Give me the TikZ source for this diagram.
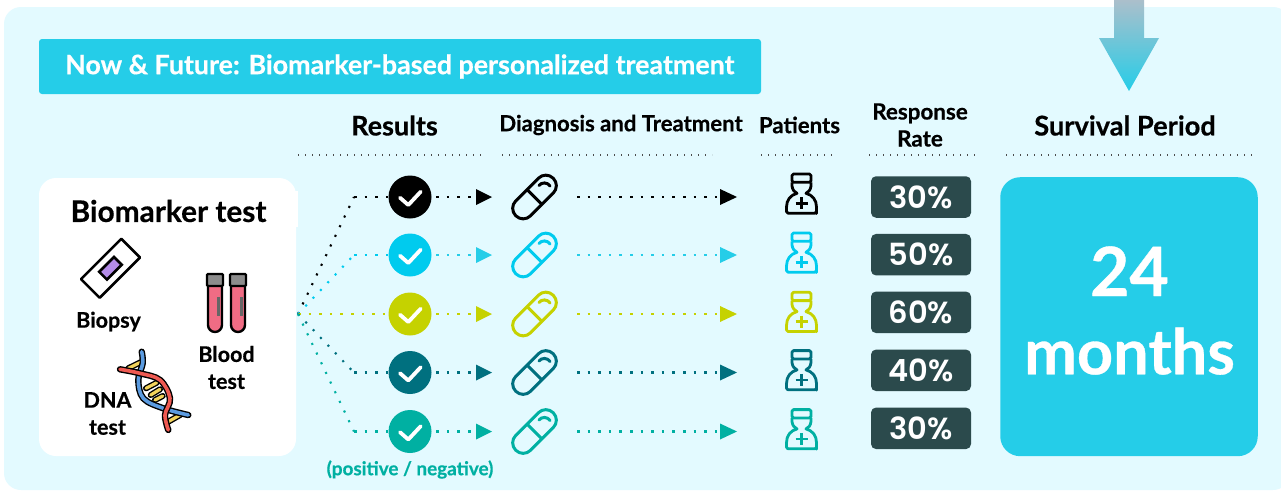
\documentclass[tikz,border=0pt]{standalone}
\usepackage{fontspec}
\setmainfont{Lato}[BoldFeatures={FakeBold=0.5}]
\newfontfamily\numfont{Poppins}[BoldFont={Poppins SemiBold}]
\usetikzlibrary{calc}
\definecolor{panel}{HTML}{E3FAFF}
\definecolor{cyanb}{HTML}{25CDE8}
\definecolor{slate}{HTML}{2B4A4C}
\definecolor{rowb}{HTML}{00CBEE}
\definecolor{rowc}{HTML}{C5D200}
\definecolor{rowd}{HTML}{00707F}
\definecolor{rowe}{HTML}{00B0A2}
\definecolor{topg}{HTML}{ABBFCB}
\definecolor{tubepink}{HTML}{F06C84}
\definecolor{slidev}{HTML}{B48CE8}
\definecolor{dnab}{HTML}{5B9BE0}
\definecolor{dnar}{HTML}{EE5A52}
\definecolor{dnay}{HTML}{F2D35C}
\tikzset{
  x=1pt,y=-1pt,
  head/.style={font=\bfseries\fontsize{27}{30}\selectfont,align=center,text=black},
  lab/.style={font=\bfseries\fontsize{21.5}{27}\selectfont,align=center,text=black},
  rulel/.style={draw=black!70,line width=1.4pt,dash pattern=on 1.4pt off 5.6pt},
  dotl/.style={line width=2.6pt,dash pattern=on 2.6pt off 8pt},
  diagl/.style={line width=2.1pt,dash pattern=on 2.1pt off 8.6pt},
  circ/.style={circle,minimum size=43pt,inner sep=0pt,fill=#1},
  pct/.style={rounded corners=5pt,fill=slate,minimum width=100pt,minimum height=41.5pt,inner sep=0pt,text=white,font=\numfont\bfseries\fontsize{30.5}{32}\selectfont},
  pcap/.pic={
    \begin{scope}[rotate=45,line width=3pt,line join=round]
      \draw[#1,rounded corners=10.4pt] (-26.5,-10.5) rectangle (26.5,10.5);
      \draw[#1] (0,-10.5) -- (0,10.5);
    \end{scope}
    \draw[#1,line width=3pt,line cap=round] (4.5,-11.5) .. controls (7,-15) and (13,-15) .. (15.5,-11);
  },
  nurse/.pic={
    \begin{scope}[line width=2.8pt,line join=round]
      \draw[#1,rounded corners=1.5pt] (-9.5,-23) -- (9.5,-23) -- (9.5,-14.7) -- (-9.5,-14.7) -- cycle;
      \draw[#1] (-9.5,-14.7) -- (-9.5,-11) .. controls (-9,-7) and (-7,-4.8) .. (-4.5,-3.7)
            .. controls (-11,-2) and (-15,3) .. (-15,10) -- (-15,15) [rounded corners=1.5pt] -- (-15,16.2) -- (15,16.2) -- (15,15) [sharp corners] -- (15,10)
            .. controls (15,3) and (11,-2) .. (4.5,-3.7)
            .. controls (7,-4.8) and (9,-7) .. (9.5,-11) -- (9.5,-14.7);
      \draw[#1] (-6,6.3) -- (6,6.3) (0,0.3) -- (0,12.3);
    \end{scope}
  }
}
\newcommand{\rowgroup}[7]{%
  % #1 name  #2 colour  #3 y  #4 pct  #5 tip colour  #6 nurse y  #7 pct y
  \node[circ=#2] (c#1) at (410,#3) {};
  \draw[white,line width=3.8pt,line cap=round,line join=round] (400,#3+0.7) -- (408.3,#3+8) -- (420.7,#3-5.3);
  \coordinate (tipa#1) at (476,#3);
  \fill[#5] (476,#3-8) -- (492,#3) -- (476,#3+8) -- cycle;
  \draw[#5,dotl,shorten <=4.5pt] (c#1.east) -- (tipa#1);
  \pic at (534.5,#3) {pcap=#2};
  \coordinate (ps#1) at (577,#3);
  \coordinate (tipb#1) at (720,#3);
  \draw[#5,dotl] (ps#1) -- (tipb#1);
  \fill[#5] (720,#3-8) -- (737,#3) -- (720,#3+8) -- cycle;
  \pic at (801.5,#6) {nurse=#2};
  \node[pct] (p#1) at (921,#7) {#4};
}
\begin{document}
\begin{tikzpicture}
\useasboundingbox (0,0) rectangle (1281,490);
\fill[white] (0,0) rectangle (1281,490);
\fill[panel,rounded corners=17pt] (4,7) rectangle (1290,490);
% top arrow
\shade[top color=topg,bottom color=cyanb]
  (1114,0) -- (1144,0) -- (1144,38) -- (1159,38) -- (1129,91) -- (1099,38) -- (1114,38) -- cycle;
% banner
\fill[cyanb,rounded corners=3pt] (39,39) rectangle (761,94);
\node[text=white,font=\bfseries\fontsize{26.8}{28}\selectfont,anchor=west,inner sep=0pt] (banner) at (65,66.5) {Now \& Future: Biomarker-based personalized treatment};
% headers
\node[head] (hres) at (394.5,125.5) {Results};
\node[head,font=\bfseries\fontsize{22.1}{26}\selectfont] (hdia) at (621,125) {Diagnosis and Treatment};
\node[head,font=\bfseries\fontsize{22.2}{26}\selectfont] (hpat) at (799.5,125) {Patients};
\node[head,font=\bfseries\fontsize{22.4}{27}\selectfont] (hrr) at (920,125) {Response\\Rate};
\node[head,font=\bfseries\fontsize{27.2}{30}\selectfont] (hsur) at (1125,125.5) {Survival Period};
\draw[rulel] (298,155) -- (485,155);
\draw[rulel] (502,155) -- (712,155);
\draw[rulel] (761,155) -- (835,155);
\draw[rulel] (869,155) -- (977,155);
\draw[rulel] (1006,155) -- (1257,155);
% biomarker card
\fill[white,rounded corners=17pt] (39,178) rectangle (296,456);
\fill[white] (280,191) rectangle (298,227);
\node[head,font=\bfseries\fontsize{29.8}{32}\selectfont] (hbio) at (168.5,211) {Biomarker test};
% slide
\begin{scope}[shift={(110.5,268.3)},rotate=45]
  \draw[black,line width=2.6pt,fill=white,line join=round] (-28.5,-13.2) rectangle (28.5,13.2);
  \draw[black,line width=2.6pt,fill=slidev] (-10.5,-5.5) rectangle (10.5,5.5);
\end{scope}
\node[lab] (lbio) at (108.5,321.5) {Biopsy};
% tubes
\foreach \xx in {215,238}{
  \draw[black,line width=2.4pt,fill=tubepink] (\xx-7,285) -- (\xx-7,325) arc[start angle=180,end angle=0,radius=7] -- (\xx+7,285) -- cycle;
  \fill[black!60] (\xx+1.5,297) rectangle (\xx+4.5,316);
  \draw[black,line width=2.2pt,fill=black!45,rounded corners=1pt] (\xx-8,274) rectangle (\xx+8,286);
}
\node[lab] (lblo) at (226.5,367.5) {Blood\\test};
% DNA
\begin{scope}[line cap=round]
  \foreach \a/\b/\c/\d in {128.3/368.3/141.7/361.7, 146/388.3/156.7/382.7, 150.7/395/160/389.3, 155/400/162.7/396, 168.3/421.7/180/415}{
    \draw[black,line width=6pt] (\a,\b) -- (\c,\d);
    \draw[dnay,line width=3.2pt] (\a,\b) -- (\c,\d);
  }
  \draw[black,line width=6.4pt] plot[smooth,tension=0.6] coordinates {(141.7,351.7) (142.7,363.3) (138.3,380) (143.3,398.3) (163.3,408.3) (188.3,415)};
  \draw[dnab,line width=3.6pt] plot[smooth,tension=0.6] coordinates {(141.7,351.7) (142.7,363.3) (138.3,380) (143.3,398.3) (163.3,408.3) (188.3,415)};
  \draw[black,line width=6.4pt] plot[smooth,tension=0.6] coordinates {(120,369.3) (140,373.3) (160,380) (170,398.3) (165,415) (168.3,430)};
  \draw[dnar,line width=3.6pt] plot[smooth,tension=0.6] coordinates {(120,369.3) (140,373.3) (160,380) (170,398.3) (165,415) (168.3,430)};
\end{scope}
\node[lab] (ldna) at (107.5,413.5) {DNA\\test};
% survival box
\node[fill=cyanb,rounded corners=20pt,minimum width=257.5pt,minimum height=279pt,inner sep=0pt] (surv) at (1129,316.7) {};
\node[text=white,anchor=base,inner sep=0pt,font=\bfseries\fontsize{68}{70}\selectfont] (st) at (1129.5,296) {24};
\node[text=white,anchor=base,inner sep=0pt,font=\bfseries\fontsize{63}{66}\selectfont] (sm) at (1129.5,374.3) {months};
% rows
\rowgroup{a}{black}{197}{30\%}{black}{197}{197}
\rowgroup{b}{rowb}{255}{50\%}{cyanb}{256}{254.7}
\rowgroup{c}{rowc}{314}{60\%}{rowc}{315.3}{312.3}
\rowgroup{d}{rowd}{372.5}{40\%}{rowd}{373.6}{370.3}
\rowgroup{e}{rowe}{431.5}{30\%}{rowe}{432.6}{428.3}
% hub and elbows
\coordinate (hub) at (298,314);
\coordinate (ea) at (354,197); \coordinate (eb) at (354,255);
\coordinate (ed) at (354,372.5); \coordinate (ee) at (354,431.5);
\draw[black,diagl] (hub) -- (ea); \draw[black,dotl] (ea) -- (ca.west);
\draw[rowb,diagl] (hub) -- (eb); \draw[rowb,dotl] (eb) -- (cb.west);
\draw[rowc,dotl] (hub) -- (cc.west);
\draw[rowd,diagl] (hub) -- (ed); \draw[rowd,dotl] (ed) -- (cd.west);
\draw[rowe,diagl] (hub) -- (ee); \draw[rowe,dotl] (ee) -- (ce.west);
\node[font=\bfseries\fontsize{18.9}{22}\selectfont,text=rowe] (pn) at (410,469.5) {(positive / negative)};
\end{tikzpicture}
\end{document}
